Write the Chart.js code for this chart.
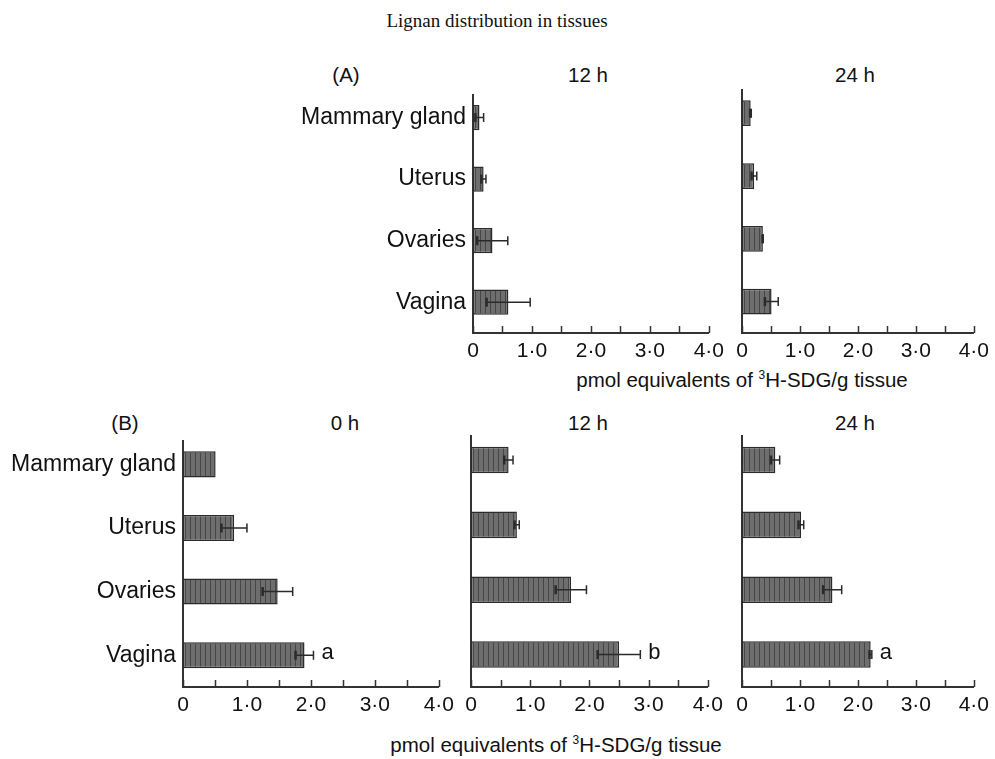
<!DOCTYPE html>
<html>
<head>
<meta charset="utf-8">
<script src="https://cdn.jsdelivr.net/npm/chart.js@4.4.1/dist/chart.umd.min.js"></script>
<style>
  body { margin:0; background:#fff; width:995px; height:759px; position:relative; overflow:hidden;
         font-family:'Liberation Sans', Arial, sans-serif; color:#111; }
  .box { position:absolute; }
  .lbl { position:absolute; transform:translate(-50%,-50%); white-space:nowrap; font-size:20.5px; }
  #title { font-family:'Liberation Serif','Times New Roman',serif; font-size:19px; }
  sup { font-size:12px; vertical-align:8px; line-height:0; }
</style>
</head>
<body>
<div class="lbl" id="title" style="left:497px;top:21px">Lignan distribution in tissues</div>

<div class="lbl" style="left:346px;top:75px">(A)</div>
<div class="lbl" style="left:588px;top:75px">12 h</div>
<div class="lbl" style="left:855px;top:75px">24 h</div>
<div class="lbl" style="left:742px;top:380px">pmol equivalents of <sup>3</sup>H-SDG/g tissue</div>

<div class="lbl" style="left:125px;top:423px">(B)</div>
<div class="lbl" style="left:345px;top:423px">0 h</div>
<div class="lbl" style="left:588px;top:423px">12 h</div>
<div class="lbl" style="left:855px;top:423px">24 h</div>
<div class="lbl" style="left:556px;top:745px">pmol equivalents of <sup>3</sup>H-SDG/g tissue</div>

<script>
// Datos (pmol equivalentes de 3H-SDG/g tejido)
const tissues = ['Mammary gland', 'Uterus', 'Ovaries', 'Vagina'];

const a12Values = [0.11, 0.18, 0.33, 0.60];
const a12Errors = [0.07, 0.04, 0.26, 0.37];
const a24Values = [0.15, 0.21, 0.36, 0.51];
const a24Errors = [0.01, 0.045, 0.005, 0.115];

const b0Values  = [0.51, 0.80, 1.48, 1.90];
const b0Errors  = [0, 0.20, 0.235, 0.14];
const b12Values = [0.635, 0.775, 1.69, 2.50];
const b12Errors = [0.075, 0.04, 0.26, 0.36];
const b24Values = [0.575, 1.02, 1.56, 2.22];
const b24Errors = [0.075, 0.045, 0.16, 0.02];

const noLetters  = ['', '', '', ''];
const b0Letters  = ['', '', '', 'a'];
const b12Letters = ['', '', '', 'b'];
const b24Letters = ['', '', '', 'a'];

const xMin = 0, xMax = 4, xStep = 0.5;

// relleno rayado vertical de las barras
const hatch = (() => {
  const c = document.createElement('canvas');
  c.width = 5; c.height = 1;
  const g = c.getContext('2d');
  g.fillStyle = '#6e6e6e'; g.fillRect(0, 0, 5, 1);
  g.fillStyle = '#464646'; g.fillRect(0, 0, 1, 1);
  return g.createPattern(c, 'repeat');
})();

const fmt = v => v === 0 ? '0' : v.toFixed(1).replace('.', '\u00b7');

// barras de error + letras
const errorBars = {
  id: 'errorBars',
  afterDatasetsDraw(chart) {
    const ctx = chart.ctx, xs = chart.scales.x;
    const ds = chart.data.datasets[0];
    const meta = chart.getDatasetMeta(0);
    ctx.save();
    ctx.strokeStyle = '#2a2a2a';
    ctx.lineWidth = 1.5;
    meta.data.forEach((bar, i) => {
      const v = ds.data[i].x, e = ds.errors[i];
      const y = bar.y;
      const hi = xs.getPixelForValue(v + e);
      if (e > 0) {
        const lo = xs.getPixelForValue(v - e);
        ctx.beginPath();
        ctx.moveTo(lo, y); ctx.lineTo(hi, y);
        ctx.moveTo(hi, y - 4.5); ctx.lineTo(hi, y + 4.5);
        ctx.stroke();
        ctx.save(); ctx.lineWidth = 2.5;
        ctx.beginPath(); ctx.moveTo(lo, y - 4.5); ctx.lineTo(lo, y + 4.5); ctx.stroke();
        ctx.restore();
      }
      if (ds.letters[i]) {
        ctx.fillStyle = '#111';
        ctx.font = '22px "Liberation Sans", Arial, sans-serif';
        ctx.textAlign = 'left';
        ctx.textBaseline = 'middle';
        ctx.fillText(ds.letters[i], Math.max(hi, bar.x) + 8, y - 2);
      }
    });
    ctx.restore();
  }
};

// marcas del eje x hacia dentro
const tickMarks = {
  id: 'tickMarks',
  afterDraw(chart) {
    const ctx = chart.ctx, xs = chart.scales.x, b = chart.chartArea.bottom;
    ctx.save();
    ctx.strokeStyle = '#333'; ctx.lineWidth = 1.5;
    ctx.beginPath();
    xs.ticks.forEach(t => {
      const x = Math.round(xs.getPixelForValue(t.value)) + 0.5;
      ctx.moveTo(x, b); ctx.lineTo(x, b - 7);
    });
    ctx.stroke();
    ctx.restore();
  }
};

const panels = [
  { values: a12Values, errors: a12Errors, letters: noLetters,  area: [473, 90, 713, 333],  labelLeft: 270 },
  { values: a24Values, errors: a24Errors, letters: noLetters,  area: [742, 90, 978, 333] },
  { values: b0Values,  errors: b0Errors,  letters: b0Letters,  area: [183, 436, 443, 687], labelLeft: 0 },
  { values: b12Values, errors: b12Errors, letters: b12Letters, area: [471, 436, 712, 687] },
  { values: b24Values, errors: b24Errors, letters: b24Letters, area: [742, 436, 978, 687] }
];

panels.forEach(p => {
  const hasLabels = p.labelLeft !== undefined;
  const padTop = 16, padRight = 17, xh = 40;
  const padLeft = hasLabels ? 0 : 12;
  const yw = hasLabels ? p.area[0] - p.labelLeft : 1;
  const left = p.area[0] - yw - padLeft;
  const top = p.area[1] - padTop;
  const w = p.area[2] - left + padRight;
  const h = p.area[3] - top + xh;

  const box = document.createElement('div');
  box.className = 'box';
  Object.assign(box.style, { left: left + 'px', top: top + 'px', width: w + 'px', height: h + 'px' });
  const canvas = document.createElement('canvas');
  box.appendChild(canvas);
  document.body.appendChild(box);

  new Chart(canvas, {
    type: 'bar',
    data: {
      datasets: [{
        data: p.values.map((v, i) => ({ x: v, y: i })),
        errors: p.errors,
        letters: p.letters,
        backgroundColor: hatch,
        borderColor: '#2b2b2b',
        borderWidth: 1.5,
        borderSkipped: false,
        barPercentage: 0.41,
        categoryPercentage: 1
      }]
    },
    options: {
      indexAxis: 'y',
      responsive: true,
      maintainAspectRatio: false,
      animation: false,
      layout: { padding: { top: padTop, right: padRight, left: padLeft, bottom: 0 } },
      plugins: { legend: { display: false }, tooltip: { enabled: false } },
      scales: {
        x: {
          type: 'linear', min: xMin, max: xMax,
          afterFit: s => { s.height = xh; },
          grid: { display: false, drawTicks: false },
          border: { color: '#333', width: 2 },
          ticks: {
            stepSize: xStep, autoSkip: false, maxRotation: 0, padding: 6,
            color: '#111', font: { size: 21, family: '"Liberation Sans", Arial, sans-serif' },
            callback: v => Number.isInteger(v) ? fmt(v) : ''
          }
        },
        y: {
          type: 'linear', reverse: true, min: -0.37, max: 3.5, offset: false,
          afterFit: s => { s.width = yw; },
          afterBuildTicks: s => { s.ticks = tissues.map((t, i) => ({ value: i })); },
          grid: { display: false, drawTicks: false, offset: false },
          border: { color: '#333', width: 2 },
          ticks: {
            display: hasLabels, padding: 7, color: '#111',
            font: { size: 23, family: '"Liberation Sans", Arial, sans-serif' },
            callback: v => tissues[v]
          }
        }
      }
    },
    plugins: [errorBars, tickMarks]
  });
});
</script>
</body>
</html>
